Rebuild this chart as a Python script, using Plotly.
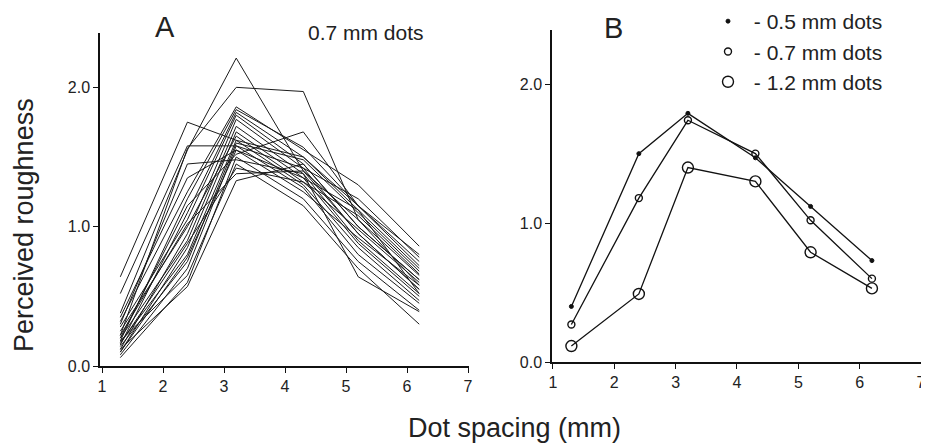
import plotly.graph_objects as go

# The page body has an 8 px default margin, so the figure is drawn slightly smaller
# and all layout positions below are given in window pixels.
PAGE_OFF = 8
FW, FH = 921, 440

# ---------------- data ----------------
spacing = [1.3, 2.4, 3.2, 4.3, 5.2, 6.2]

# Panel A: individual subjects, 0.7 mm dots
subjects_a = [
    [0.64, 1.75, 1.62, 1.50, 1.15, 0.80],
    [0.52, 1.58, 1.58, 1.42, 1.20, 0.78],
    [0.38, 1.55, 2.21, 1.40, 1.05, 0.65],
    [0.22, 1.56, 2.00, 1.97, 1.05, 0.58],
    [0.32, 1.25, 1.86, 1.55, 1.30, 0.86],
    [0.18, 1.20, 1.84, 1.57, 1.15, 0.72],
    [0.15, 1.10, 1.82, 1.50, 1.12, 0.70],
    [0.28, 1.05, 1.80, 1.45, 1.00, 0.62],
    [0.12, 0.95, 1.77, 1.42, 0.95, 0.55],
    [0.20, 0.90, 1.72, 1.38, 0.90, 0.52],
    [0.10, 0.85, 1.68, 1.35, 0.88, 0.50],
    [0.25, 1.00, 1.65, 1.32, 0.98, 0.60],
    [0.17, 0.80, 1.62, 1.30, 0.85, 0.47],
    [0.14, 0.75, 1.60, 1.48, 1.10, 0.68],
    [0.08, 0.70, 1.58, 1.28, 0.80, 0.45],
    [0.35, 1.35, 1.55, 1.25, 0.92, 0.58],
    [0.20, 1.15, 1.52, 1.68, 1.15, 0.75],
    [0.06, 0.60, 1.50, 1.20, 0.75, 0.40],
    [0.12, 0.57, 1.33, 1.45, 1.00, 0.62],
    [0.18, 0.65, 1.45, 1.15, 0.70, 0.30],
    [0.30, 1.45, 1.48, 1.38, 0.64, 0.39],
    [0.16, 0.88, 1.42, 1.32, 1.08, 0.66],
    [0.22, 1.02, 1.38, 1.40, 0.95, 0.55],
    [0.10, 0.78, 1.55, 1.35, 1.12, 0.52],
]

# Panel B: means by dot size
dots_05 = [0.40, 1.50, 1.79, 1.47, 1.12, 0.73]
dots_07 = [0.27, 1.18, 1.74, 1.50, 1.02, 0.60]
dots_12 = [0.115, 0.49, 1.40, 1.30, 0.79, 0.53]

x_ticks = [1, 2, 3, 4, 5, 6, 7]
y_ticks = [0, 1, 2]
y_tick_labels = ["0.0", "1.0", "2.0"]


def px(x):
    return (x - PAGE_OFF) / FW


def py(y):
    return 1 - (y - PAGE_OFF) / FH


FONT = "Liberation Sans, Arial, Helvetica, sans-serif"
INK = "#222222"

fig = go.Figure()

for s in subjects_a:
    fig.add_trace(go.Scatter(x=spacing, y=s, mode="lines", xaxis="x", yaxis="y",
                             line=dict(color="#1a1a1a", width=1), showlegend=False,
                             hoverinfo="skip"))

series_b = [
    (dots_05, "\u00a0- 0.5 mm dots", dict(symbol="circle", size=4, color="#111111",
                                           line=dict(color="#111111", width=1))),
    (dots_07, "\u00a0- 0.7 mm dots", dict(symbol="circle-open", size=7, color="#111111",
                                           line=dict(width=1.4))),
    (dots_12, "\u00a0- 1.2 mm dots", dict(symbol="circle-open", size=11, color="#111111",
                                           line=dict(width=1.4))),
]
for vals, name, mk in series_b:
    fig.add_trace(go.Scatter(x=spacing, y=vals, mode="lines+markers", xaxis="x2", yaxis="y2",
                             line=dict(color="#111111", width=1.3), marker=mk,
                             showlegend=False, name=name))
# legend-only entries (markers without lines)
for vals, name, mk in series_b:
    fig.add_trace(go.Scatter(x=[None], y=[None], mode="markers", xaxis="x2", yaxis="y2",
                             marker=mk, name=name, showlegend=True))

axis_common = dict(showgrid=False, zeroline=False, showline=True, linecolor="#111111",
                   linewidth=1.5, ticks="outside", ticklen=5, tickwidth=1.2,
                   tickcolor="#111111", ticklabeloverflow="allow",
                   tickfont=dict(family=FONT, size=16, color=INK))

fig.update_layout(
    width=FW, height=FH,
    paper_bgcolor="white", plot_bgcolor="white",
    margin=dict(l=0, r=0, t=0, b=0, autoexpand=False),
    xaxis=dict(domain=[px(100), px(469)], range=[0.967, 7.016], tickvals=x_ticks,
               anchor="y", **axis_common),
    yaxis=dict(domain=[py(366), py(33)], range=[0, 2.39], tickvals=y_ticks,
               ticktext=y_tick_labels, anchor="x", **axis_common),
    xaxis2=dict(domain=[px(552), px(921)], range=[0.984, 7.0], tickvals=x_ticks,
                anchor="y2", **axis_common),
    yaxis2=dict(domain=[py(362), py(30)], range=[0, 2.39], tickvals=y_ticks,
                ticktext=y_tick_labels, anchor="x2", **axis_common),
    showlegend=True,
    legend=dict(x=px(708), y=py(1), xanchor="left", yanchor="top",
                font=dict(family=FONT, size=21, color=INK),
                bgcolor="rgba(0,0,0,0)", tracegroupgap=0, itemsizing="trace"),
    annotations=[
        dict(text="A", x=px(165), y=py(27), xref="paper", yref="paper", showarrow=False,
             xanchor="center", yanchor="middle",
             font=dict(family=FONT, size=29, color=INK)),
        dict(text="0.7 mm dots", x=px(306), y=py(32), xref="paper", yref="paper",
             xanchor="left", yanchor="middle", showarrow=False,
             font=dict(family=FONT, size=21, color=INK)),
        dict(text="B", x=px(613), y=py(28), xref="paper", yref="paper", showarrow=False,
             xanchor="center", yanchor="middle",
             font=dict(family=FONT, size=29, color=INK)),
        dict(text="Perceived roughness", x=px(24), y=py(225), xref="paper", yref="paper",
             xanchor="center", yanchor="middle",
             textangle=-90, showarrow=False, font=dict(family=FONT, size=27, color=INK)),
        dict(text="Dot spacing (mm)", x=px(514), y=py(428), xref="paper", yref="paper",
             xanchor="center", yanchor="middle",
             showarrow=False, font=dict(family=FONT, size=27, color=INK)),
    ],
)

fig.write_html("out.html")
